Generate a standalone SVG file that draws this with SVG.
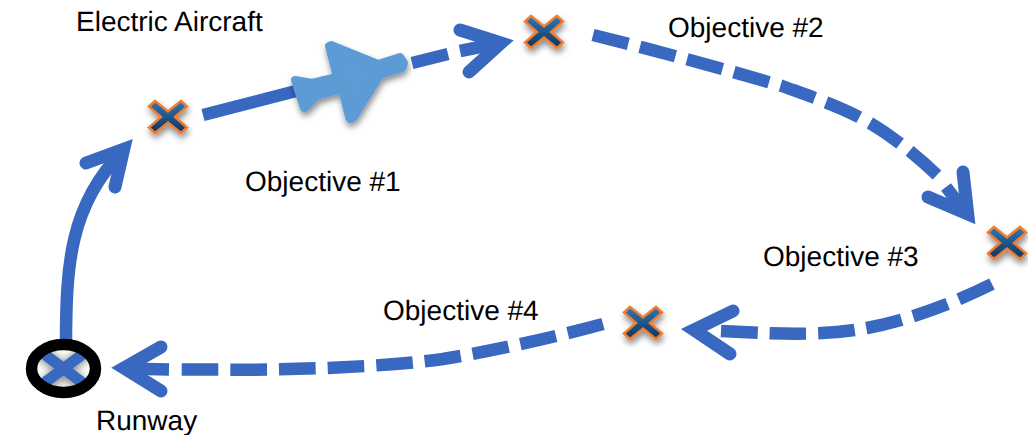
<svg xmlns="http://www.w3.org/2000/svg" width="1028" height="435" viewBox="0 0 1028 435">
<style>
text{font-family:"Liberation Sans",Arial,sans-serif;font-size:28px;fill:#000;text-rendering:geometricPrecision}
.ln{fill:none;stroke:#3868c0;stroke-width:12.500}
.dash{stroke-dasharray:36.500 12}
.head{fill:none;stroke:#3868c0;stroke-width:13;stroke-linecap:round;stroke-linejoin:miter;stroke-miterlimit:10}
.x{fill:url(#xg);stroke:#ed7d31;stroke-width:2.500;stroke-linejoin:miter;filter:url(#sh)}
</style>
<defs>
<linearGradient id="xg" x1="0" y1="0" x2="0" y2="1"><stop offset="0" stop-color="#2e78b8"/><stop offset="1" stop-color="#12335a"/></linearGradient>
<filter id="sh" x="-40%" y="-40%" width="180%" height="190%"><feDropShadow dx="1" dy="4" stdDeviation="3" flood-color="#000" flood-opacity=".45"/></filter>
<filter id="bl" x="-30%" y="-30%" width="160%" height="160%"><feGaussianBlur stdDeviation="4"/></filter>
<path id="cross" d="M-13-16L0-5.500L13-16L19-10.500L7 0L19 10.500L13 16L0 5.500L-13 16L-19 10.500L-7 0L-19-10.500Z"/>
<clipPath id="inner"><ellipse cx="63.500" cy="368.500" rx="27" ry="19"/></clipPath>
</defs>
<g id="connectors">
<path class="ln" d="M66 344C66 265 70 205 122 152"/>
<path class="head" d="M86 163L123.700 149.200L115 187"/>
<path class="ln" d="M203 115L300 90"/>
<path class="ln" d="M412 63L448 54"/>
<path class="ln" d="M460 51L500 43"/>
<path class="head" d="M460 30L501 43L469 72"/>
<path class="ln dash" pathLength="376" d="M593 35C657 51 725 69 782 86C812 97 842 107 870 123C895 138 918 157 937 175"/>
<path class="ln" d="M946 187L967 214"/>
<path class="head" d="M963 172L967.700 214L928 197"/>
<path class="ln dash" pathLength="279" d="M992 284C950 305 905 321 867 328C830 335 790 335 721 331"/>
<path class="head" d="M733 311L694 330L730 354"/>
<path class="ln dash" pathLength="424.500" d="M603 324C570 333 505 349 443 359C400 365 330 369 250 369.700L181.700 369.500"/>
<path class="ln" d="M169 369.500L124 368.500"/>
<path class="head" d="M161 347L124 368L161 391"/>
</g>
<g id="wp1"><use href="#cross" class="x" x="168" y="117"/></g>
<g id="wp2"><use href="#cross" class="x" x="544" y="32"/></g>
<g id="wp3"><use href="#cross" class="x" x="1007" y="243"/></g>
<g id="wp4"><use href="#cross" class="x" x="643" y="323"/></g>
<g id="runway">
<g clip-path="url(#inner)">
<ellipse cx="63.500" cy="368.500" rx="27" ry="19" fill="#fff"/>
<path d="M38 350L89 391M89 350L38 391" stroke="#888" stroke-width="13" fill="none" filter="url(#bl)"/>
<path d="M36 348L91 389M91 348L36 389" stroke="#3868c0" stroke-width="11" fill="none"/>
</g>
<ellipse cx="63.500" cy="368.500" rx="32" ry="24" fill="none" stroke="#000" stroke-width="11.500"/>
</g>
<g id="aircraft"><path filter="url(#sh)" fill="#5b9bd5" stroke="#5b9bd5" stroke-width="8" stroke-linejoin="round" d="M295 80L312 83L337 77L329 46L331 45L378 64L400 57L404 63L402 68L380 75L354 117L350 119L349 117L342 89L317 96L305 108L304 108Z"/></g>
<text id="t-aircraft" x="76" y="31">Electric Aircraft</text>
<text id="t-o1" x="245" y="191">Objective #1</text>
<text id="t-o2" x="668" y="37">Objective #2</text>
<text id="t-o3" x="763" y="266">Objective #3</text>
<text id="t-o4" x="383" y="320">Objective #4</text>
<text id="t-runway" x="96" y="430">Runway</text>
</svg>
